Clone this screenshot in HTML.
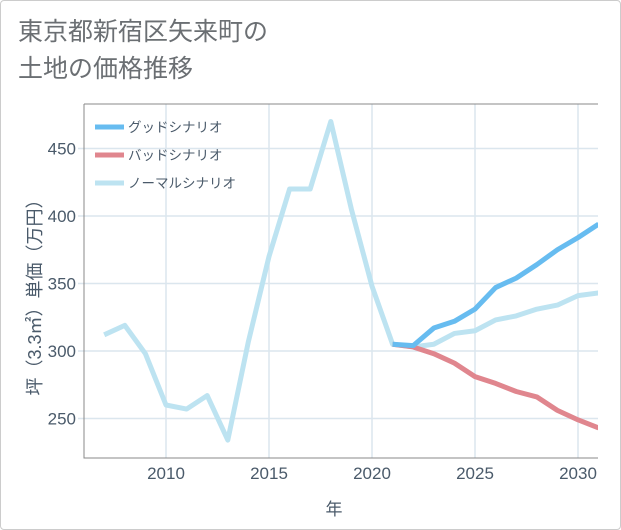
<!DOCTYPE html>
<html><head><meta charset="utf-8"><style>
body{margin:0;background:#fff;}
#wrap{position:relative;width:621px;height:530px;box-sizing:border-box;border:1px solid #ccc;border-radius:4px;background:#fff;overflow:hidden;font-family:"Liberation Sans","Noto Sans CJK JP",sans-serif;}
.title{position:absolute;left:17px;top:13px;font-size:25px;line-height:37px;color:#6b6f73;}
svg{position:absolute;left:0;top:0;}
</style></head><body>
<div id="wrap">
<div class="title">東京都新宿区矢来町の<br>土地の価格推移</div>
<svg id="chart" width="621" height="530"></svg>
</div>
<script>
const years=[2007,2008,2009,2010,2011,2012,2013,2014,2015,2016,2017,2018,2019,2020,2021,2022,2023,2024,2025,2026,2027,2028,2029,2030,2031];
const normal=[312,319,298,260,257,267,234,307,370,420,420,470,405,348,305,303,305,313,315,323,326,331,334,341,343];
const goodYears=[2021,2022,2023,2024,2025,2026,2027,2028,2029,2030,2031];
const good=[305,304,317,322,331,347,354,364,375,384,394];
const bad=[305,303,298,291,281,276,270,266,256,249,243];
const xTicks=[2010,2015,2020,2025,2030];
const yTicks=[250,300,350,400,450];
const L=83,R=597,T=103,B=457;
const x=v=>165+(v-2010)*20.6;
const y=v=>350-(v-300)*1.35;
const svg=document.getElementById('chart');
const NS='http://www.w3.org/2000/svg';
function mk(t,a){const e=document.createElementNS(NS,t);for(const k in a)e.setAttribute(k,a[k]);svg.appendChild(e);return e;}
xTicks.forEach(v=>{
 const g=mk('line',{x1:x(v),x2:x(v),y1:T,y2:B,stroke:'#dbe6ee','stroke-width':1.5});
 
 
 const t=mk('text',{x:x(v),y:478,'text-anchor':'middle','font-size':17,fill:'#4a5a6a'});
 t.textContent=v;
 
 
});
yTicks.forEach(v=>{
 const g=mk('line',{x1:L-6,x2:R,y1:y(v),y2:y(v),stroke:'#dbe6ee','stroke-width':1.5});
 
 
 const t=mk('text',{x:L-8,y:y(v)+6,'text-anchor':'end','font-size':17,fill:'#4a5a6a'});
 t.textContent=v;
 
 
});
const fr=mk('path',{d:`M${L},${T}V${B}H${R}`,fill:'none',stroke:'#888','stroke-width':1});


const ft=mk('line',{x1:L,x2:R,y1:T,y2:T,stroke:'#888','stroke-width':1});


const cp=mk('clipPath',{id:'cp'});mk('rect',{x:L,y:T,width:R-L,height:B-T});cp.appendChild(svg.lastChild);
function line(xs,ys,c,name){
 const p=mk('polyline',{points:xs.map((v,i)=>x(v)+','+y(ys[i])).join(' '),fill:'none',stroke:c,'stroke-width':5,'stroke-linejoin':'round','clip-path':'url(#cp)'});
 
 
}
line(years,normal,'#bde3f1','normal-scenario-line');
line(goodYears,bad,'#e0868e','bad-scenario-line');
line(goodYears,good,'#67bcf0','good-scenario-line');
const leg=[['グッドシナリオ','#67bcf0'],['バッドシナリオ','#e0868e'],['ノーマルシナリオ','#bde3f1']];
leg.forEach((d,i)=>{
 const yy=126+i*28;
 const l=mk('line',{x1:94,x2:123,y1:yy,y2:yy,stroke:d[1],'stroke-width':5});
 
 
 const t=mk('text',{x:127,y:yy+5,'font-size':13.5,fill:'#4a5a6a'});
 t.textContent=d[0];
 
 
});
const xt=mk('text',{x:333,y:514,'text-anchor':'middle','font-size':17,fill:'#4a5a6a'});
xt.textContent='年';


const yt=mk('text',{x:0,y:0,'text-anchor':'middle','font-size':18,fill:'#4a5a6a',transform:'translate(40,292) rotate(-90)'});
yt.textContent='坪（3.3㎡）単価（万円）';


</script>
</body></html>
